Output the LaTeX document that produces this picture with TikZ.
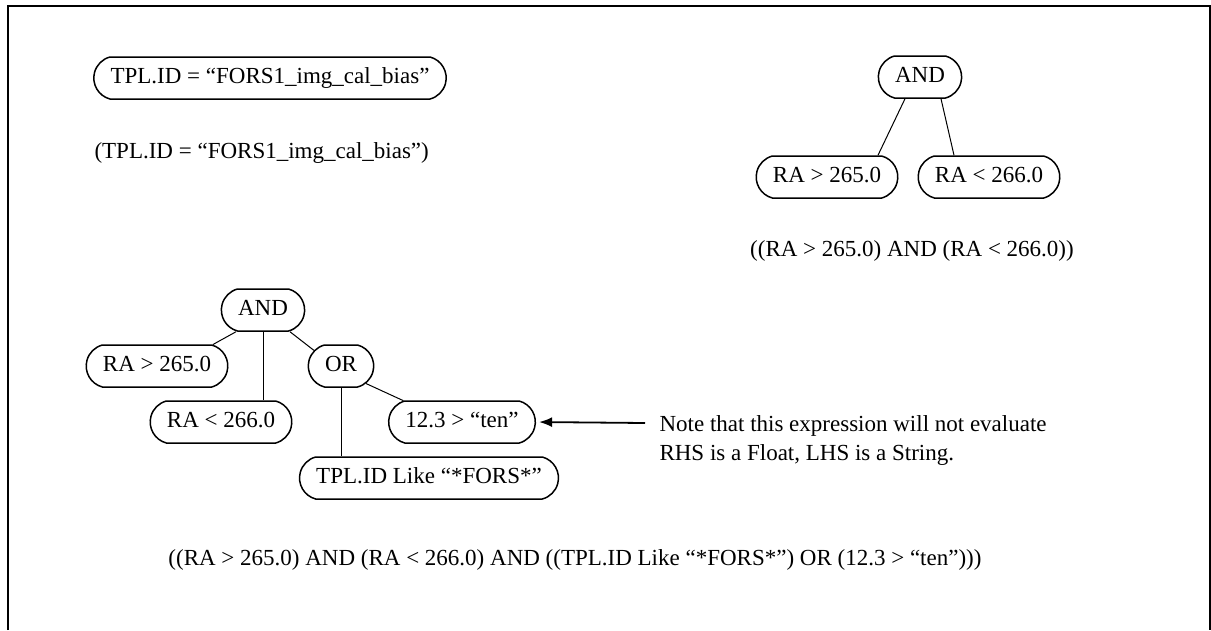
\documentclass[tikz,border=0pt]{standalone}
\usepackage{fontspec}
\setmainfont{Liberation Serif}
\usetikzlibrary{shapes.misc,arrows.meta}
\begin{document}
\begin{tikzpicture}[x=1pt,y=-1pt,
  every node/.style={font=\fontsize{23}{29}\selectfont},
  cond/.style={draw, line width=1.5pt, rounded rectangle, rounded rectangle arc length=150,
    minimum height=42pt, inner xsep=14pt, text height=16pt, text depth=5pt},
  edge/.style={line width=1pt},
  frame/.style={line width=2pt}]
\useasboundingbox (0,0) rectangle (1211,630);
\draw[frame] (7.5,630) -- (7.5,6) -- (1209.5,6) -- (1209.5,630);

\node[cond] (tpl) at (270,78) {TPL.ID = “FORS1\_img\_cal\_bias”};
\node[anchor=base west] (tpltxt) at (91,158) {(TPL.ID = “FORS1\_img\_cal\_bias”)};

\node[cond] (and1) at (920,77) {AND};
\node[cond] (ra1a) at (827,177) {RA > 265.0};
\node[cond] (ra1b) at (989,177) {RA < 266.0};
\node[anchor=base] (andtxt) at (912,256) {((RA > 265.0) AND (RA < 266.0))};
\draw[edge] ([xshift=-15pt]and1.south) -- ([xshift=51pt]ra1a.north);
\draw[edge] ([xshift=21pt]and1.south) -- ([xshift=-35pt]ra1b.north);

\node[cond] (and2) at (263,310) {AND};
\node[cond] (ra2a) at (157,366) {RA > 265.0};
\node[cond] (or) at (341,366) {OR};
\node[cond] (ra2b) at (221,422) {RA < 266.0};
\node[cond] (ten) at (462,422) {12.3 > “ten”};
\node[cond] (like) at (429,478) {TPL.ID Like “*FORS*”};
\draw[edge] ([xshift=-27pt]and2.south) -- (ra2a.21);
\draw[edge] (and2.south) -- (and2.south |- ra2b.north);
\draw[edge] ([xshift=27pt]and2.south) -- (or.150);
\draw[edge] (or.-35) -- (ten.160);
\draw[edge] (or.south) -- (or.south |- like.north);

\coordinate (notept) at (645,423);
\draw[line width=1.8pt, -{Latex[length=13pt,width=10pt]}, shorten >=3pt] (notept) -- (ten.east);
\node[anchor=base west] (note1) at (656,431) {Note that this expression will not evaluate};
\node[anchor=base west] (note2) at (656,460) {RHS is a Float, LHS is a String.};

\node[anchor=base] (fulltxt) at (575,565) {((RA > 265.0) AND (RA < 266.0) AND ((TPL.ID Like “*FORS*”) OR (12.3 > “ten”)))};
\end{tikzpicture}
\end{document}
